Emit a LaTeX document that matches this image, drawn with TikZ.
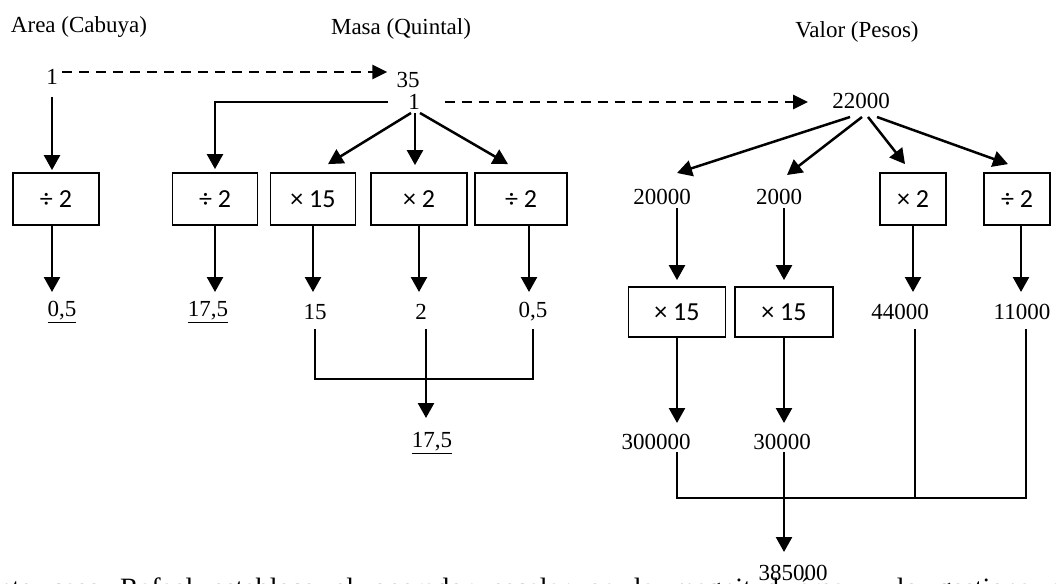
\documentclass[tikz,border=0pt]{standalone}
\usepackage{fontspec}
\setmainfont{Liberation Serif}
\newfontfamily\boxfont{Carlito}
\usetikzlibrary{arrows.meta,calc}
\tikzset{
 lbl/.style={inner sep=1pt, font=\fontsize{23}{27}\selectfont},
 opbox/.style={draw, line width=1.8pt, minimum height=52pt, inner sep=0pt, font=\boxfont\fontsize{26}{30}\selectfont},
 arr/.style={line width=2.5pt, -{Triangle[length=15pt,width=16pt]}},
 dasharr/.style={line width=2.5pt, dash pattern=on 10pt off 7pt, -{Triangle[length=15pt,width=14pt]}},
 bus/.style={line width=1.6pt},
}
\begin{document}
\begin{tikzpicture}[x=1pt,y=-1pt]
\fill[white] (0,0) rectangle (1056,583);
\useasboundingbox (0,0) rectangle (1056,583);
% headers
\node[lbl] (hA) at (79,27) {Area (Cabuya)};
\node[lbl] (hM) at (401,29) {Masa (Quintal)};
\node[lbl] (hV) at (857,32) {Valor (Pesos)};
% row 1
\node[lbl] (a1) at (52,77) {1};
\node[lbl] (m35) at (408,80) {35};
\node[lbl] (m1) at (414,102) {1};
\node[lbl] (v22) at (861,101) {22000};
% boxes
\node[opbox, minimum width=86pt] (aD) at (56,199) {÷ 2};
\node[opbox, minimum width=85pt] (mD1) at (215,199) {÷ 2};
\node[opbox, minimum width=85pt] (mM15) at (313,199) {× 15};
\node[opbox, minimum width=96pt] (mM2) at (419,199) {× 2};
\node[opbox, minimum width=92pt] (mD2) at (521,199) {÷ 2};
\node[opbox, minimum width=66pt] (vM2) at (913,199) {× 2};
\node[opbox, minimum width=66pt] (vD2) at (1017,199) {÷ 2};
\node[opbox, minimum width=97pt, minimum height=50pt] (vM15a) at (677,312) {× 15};
\node[opbox, minimum width=98pt, minimum height=50pt] (vM15b) at (784,312) {× 15};
% values
\node[lbl] (a05) at (62,312) {\underline{0,5}};
\node[lbl] (m175a) at (208,312) {\underline{17,5}};
\node[lbl] (m15) at (315,312) {15};
\node[lbl] (m2) at (421,312) {2};
\node[lbl] (m05) at (533,312) {0,5};
\node[lbl] (v20000) at (662,197) {20000};
\node[lbl] (v2000) at (779,197) {2000};
\node[lbl] (v44000) at (900,312) {44000};
\node[lbl] (v11000) at (1022,312) {11000};
\node[lbl] (v300000) at (656,442) {300000};
\node[lbl] (v30000) at (782,442) {30000};
\node[lbl] (m175b) at (432,443) {\underline{17,5}};
% bottom paragraph line (cut)
\node[anchor=base west, inner sep=0pt, font=\fontsize{28}{32}\selectfont] (para) at (-2,597) {\makebox[1064pt][s]{nte caso Rafael establece el operador escalar en la magnitud área y lo gestiona e}};
\node[lbl] (v385000) at (793,573) {385000};
% dashed arrows
\draw[dasharr] ($(a1.east)+(3,-5)$) -- ($(m35.west)+(-8,-8)$);
\draw[dasharr] ($(m1.east)+(24,0)$) -- ($(v22.west)+(-23,1)$);
% area
\draw[arr, shorten >=2pt] ($(a1)+(0,20)$) -- (aD.north -| a1);
\draw[arr] (aD.south -| a1) -- ($(a05 -| a1)+(0,-20)$);
% masa
\draw[arr, shorten >=3pt] ($(m1)+(-26,0)$) -| (mD1.north);
\draw[arr] ($(m1)+(-3,11)$) -- ($(mM15.north)+(15,-8)$);
\draw[arr] ($(m1)+(1,11)$) -- ($(m1 |- mM2.north)+(1,-7)$);
\draw[arr] ($(m1)+(6,11)$) -- ($(mD2.north)+(-13,-8)$);
\draw[arr] (mD1.south) -- ($(mD1.south |- m175a)+(0,-20)$);
\draw[arr] (mM15.south) -- ($(mM15.south |- m15)+(0,-20)$);
\draw[arr] (mM2.south) -- ($(mM2.south |- m2)+(0,-20)$);
\draw[arr] ($(mD2.south)+(8,0)$) -- ($(mD2.south |- m05)+(8,-20)$);
\draw[bus] ($(m15)+(0,17)$) |- ($(m05)+(0,67)$) -- ($(m05)+(0,17)$);
\draw[arr] ($(m2)+(5,17)$) -- ($(m2 |- m175b)+(5,-25)$);
% valor
\draw[arr] ($(v22)+(-11,16)$) -- ($(v20000)+(15,-24)$);
\draw[arr] ($(v22)+(1,16)$) -- ($(v2000)+(8,-22)$);
\draw[arr] ($(v22)+(7,16)$) -- ($(vM2.north)+(-8,-8)$);
\draw[arr] ($(v22)+(16,16)$) -- ($(vD2.north)+(-9,-8)$);
\draw[arr] ($(v20000)+(15,11)$) -- ($(vM15a.north)+(0,-6)$);
\draw[arr] ($(v2000)+(5,11)$) -- ($(vM15b.north)+(0,-6)$);
\draw[arr] (vM2.south) -- ($(vM2.south |- v44000)+(0,-20)$);
\draw[arr] ($(vD2.south)+(4,0)$) -- ($(vD2.south |- v11000)+(4,-20)$);
\draw[arr] (vM15a.south) -- ($(vM15a.south |- v300000)+(0,-19)$);
\draw[arr] (vM15b.south) -- ($(vM15b.south |- v30000)+(0,-19)$);
\draw[bus] ($(vM15a.south |- v300000)+(0,10)$) |- ($(v11000)+(4,186)$) -- ($(v11000)+(4,17)$);
\draw[bus] ($(v44000)+(15,17)$) -- ($(v44000)+(15,186)$);
\draw[arr] ($(vM15b.south |- v30000)+(0,10)$) -- ($(vM15b.south |- v385000)+(0,-21)$);
\end{tikzpicture}
\end{document}
